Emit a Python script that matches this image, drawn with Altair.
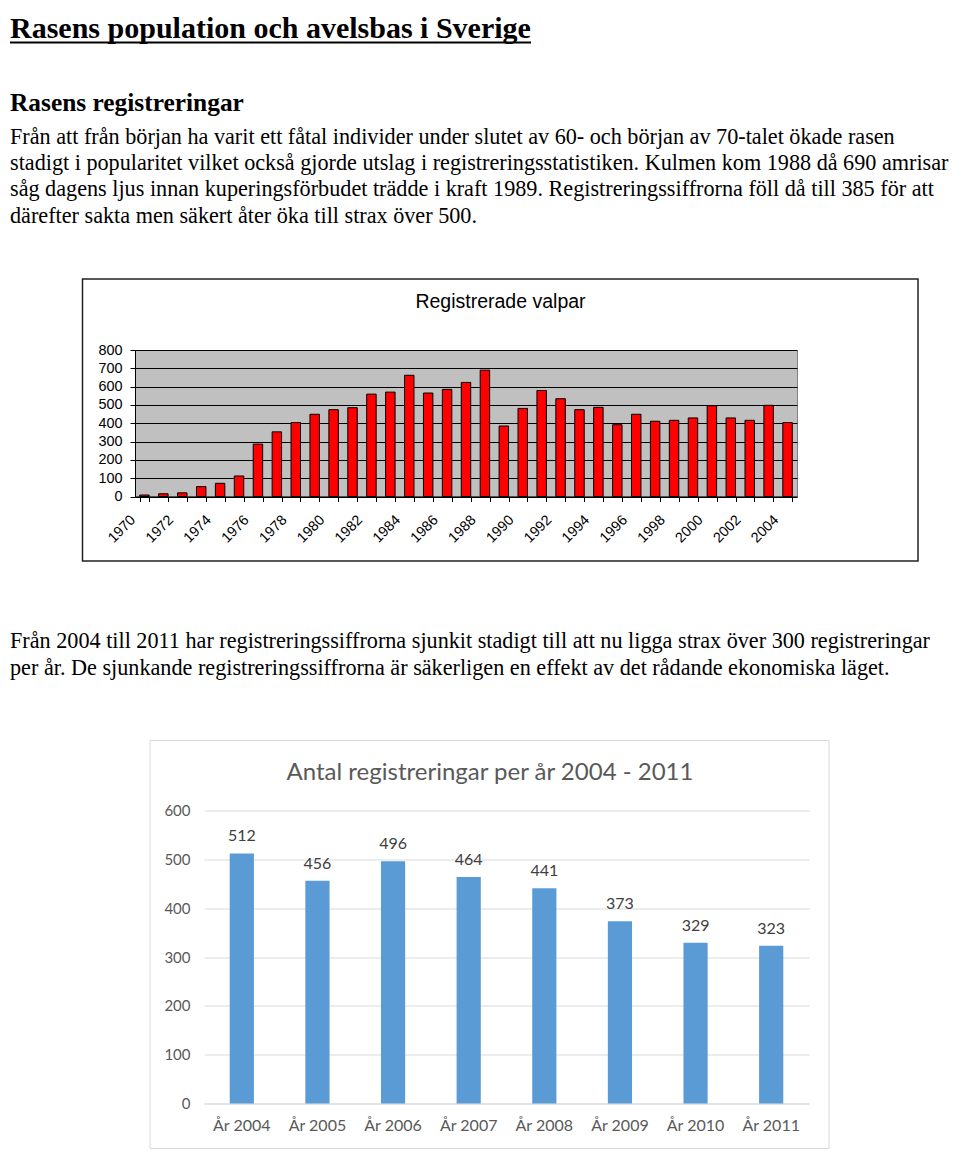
import altair as alt
import pandas as pd

# ---------------- data ----------------
years1 = ["1970", "1971", "1972", "1973", "1974", "1975", "1976", "1977", "1978", "1979",
          "1980", "1981", "1982", "1983", "1984", "1985", "1986", "1987", "1988", "1989",
          "1990", "1991", "1992", "1993", "1994", "1995", "1996", "1997", "1998", "1999",
          "2000", "2001", "2002", "2003", "2004"]
values1 = [8, 15, 20, 54, 72, 112, 286, 353, 404, 449,
           474, 485, 559, 570, 662, 565, 585, 623, 690, 385,
           481, 579, 534, 474, 487, 392, 449, 411, 416, 429,
           496, 429, 416, 498, 404]
y1_ticks = [0, 100, 200, 300, 400, 500, 600, 700, 800]

years2 = ["År 2004", "År 2005", "År 2006", "År 2007", "År 2008", "År 2009", "År 2010", "År 2011"]
values2 = [512, 456, 496, 464, 441, 373, 329, 323]
y2_ticks = [0, 100, 200, 300, 400, 500, 600]

page_title = "Rasens population och avelsbas i Sverige"
heading = "Rasens registreringar"
para1 = [
    "Från att från början ha varit ett fåtal individer under slutet av 60- och början av 70-talet ökade rasen",
    "stadigt i popularitet vilket också gjorde utslag i registreringsstatistiken. Kulmen kom 1988 då 690 amrisar",
    "såg dagens ljus innan kuperingsförbudet trädde i kraft 1989. Registreringssiffrorna föll då till 385 för att",
    "därefter sakta men säkert åter öka till strax över 500.",
]
para2 = [
    "Från 2004 till 2011 har registreringssiffrorna sjunkit stadigt till att nu ligga strax över 300 registreringar",
    "per år. De sjunkande registreringssiffrorna är säkerligen en effekt av det rådande ekonomiska läget.",
]
chart1_title = "Registrerade valpar"
chart2_title = "Antal registreringar per år 2004 - 2011"

one = pd.DataFrame({"k": [0]})
df1 = pd.DataFrame({"year": years1, "n": values1})
df2 = pd.DataFrame({"year": years2, "n": values2})

SERIF = "Liberation Serif"
SANS = "Liberation Sans"
CAL = "Lato"


def text_block(lines, x, y, size, weight="normal", font=SERIF, color="black",
               align="left", baseline="alphabetic", lh=None):
    kw = dict(text=lines, fontSize=size, fontWeight=weight, font=font, color=color,
              align=align, baseline=baseline)
    if lh is not None:
        kw["lineHeight"] = lh
    return alt.Chart(one).mark_text(**kw).encode(x=alt.value(x), y=alt.value(y))


# ---------------- chart 1 ----------------
frame1 = alt.Chart(one).mark_rect(fillOpacity=0, stroke="#222222", strokeWidth=1.5).encode(
    x=alt.value(-52.5), x2=alt.value(783), y=alt.value(-71), y2=alt.value(211))

bars1 = alt.Chart(df1).mark_bar(color="#ff0000", stroke="#000000", strokeWidth=1).encode(
    x=alt.X("year:N", sort=None,
            scale=alt.Scale(paddingInner=0.5, paddingOuter=0.25),
            axis=alt.Axis(title=None, tickBand="extent", labelAngle=-45, labelAlign="right",
                          labelBaseline="middle",
                          labelExpr="toNumber(datum.value) % 2 == 0 ? datum.label : ''",
                          labelOverlap=False, labelOffset=-11.5, labelPadding=16, tickSize=5,
                          tickColor="black", domainColor="black", labelFont=SANS,
                          labelFontSize=14.4, labelColor="black", grid=False)),
    y=alt.Y("n:Q", scale=alt.Scale(domain=[0, 800], nice=False),
            axis=alt.Axis(title=None, values=y1_ticks, grid=True, gridColor="black", gridWidth=1,
                          tickSize=5, tickColor="black", domainColor="black", labelFont=SANS,
                          labelFontSize=14.4, labelColor="black", labelPadding=8)),
)

underline = alt.Chart(one).mark_rule(color="black", strokeWidth=2).encode(
    x=alt.value(-125), x2=alt.value(396), y=alt.value(-307.5))

chartA = alt.layer(
    frame1,
    bars1,
    text_block([page_title], -125, -312, 30, weight="bold"),
    underline,
    text_block([heading], -125, -239, 25.4, weight="bold"),
    text_block(para1, -125, -206.3, 22.2, lh=26.3),
    text_block([chart1_title], 365.5, -48, 19.5, font=SANS, align="center",
               baseline="middle"),
    text_block(para2, -125, 298, 22.2, lh=27),
).properties(width=662, height=146.5,
             view=alt.ViewBackground(fill="#c0c0c0", stroke="#808080"))

# ---------------- chart 2 ----------------
frame2 = alt.Chart(one).mark_rect(fillOpacity=0, stroke="#d9d9d9", strokeWidth=1).encode(
    x=alt.value(-54), x2=alt.value(625), y=alt.value(-70), y2=alt.value(338))

base2 = alt.Chart(df2).encode(
    x=alt.X("year:N", sort=None,
            scale=alt.Scale(paddingInner=0.68, paddingOuter=0.34),
            axis=alt.Axis(title=None, labelAngle=0, ticks=False, domainColor="#d9d9d9",
                          labelFont=CAL, labelFontSize=16, labelColor="#595959",
                          labelPadding=14)),
    y=alt.Y("n:Q", scale=alt.Scale(domain=[0, 600], nice=False),
            axis=alt.Axis(title=None, values=y2_ticks, grid=True, gridColor="#d9d9d9",
                          ticks=False, domain=False, labelFont=CAL, labelFontSize=15,
                          labelColor="#595959", labelPadding=14)),
)
bars2 = base2.mark_bar(color="#5b9bd5")
labels2 = base2.mark_text(baseline="bottom", dy=-9, font=CAL, fontSize=16,
                          color="#404040").encode(text="n:Q")

chartB = alt.layer(
    frame2,
    text_block([chart2_title], 286, -38, 24, font=CAL, color="#595959", align="center",
               baseline="middle"),
    bars2,
    labels2,
).properties(width=605, height=293, view=alt.ViewBackground(stroke="transparent"))

spacer = alt.Chart(one).mark_point(opacity=0).encode(
    x=alt.value(0), y=alt.value(0)
).properties(width=69, height=10, view=alt.ViewBackground(stroke="transparent"))

rowB = alt.hconcat(spacer, chartB, spacing=0, bounds="flush")

chart = alt.vconcat(chartA, rowB, spacing=313.5, bounds="flush").properties(
    padding={"top": 5, "left": 0, "right": 0, "bottom": 0}, background="white")

chart.save("out.html", embed_options={"renderer": "svg", "actions": False})
